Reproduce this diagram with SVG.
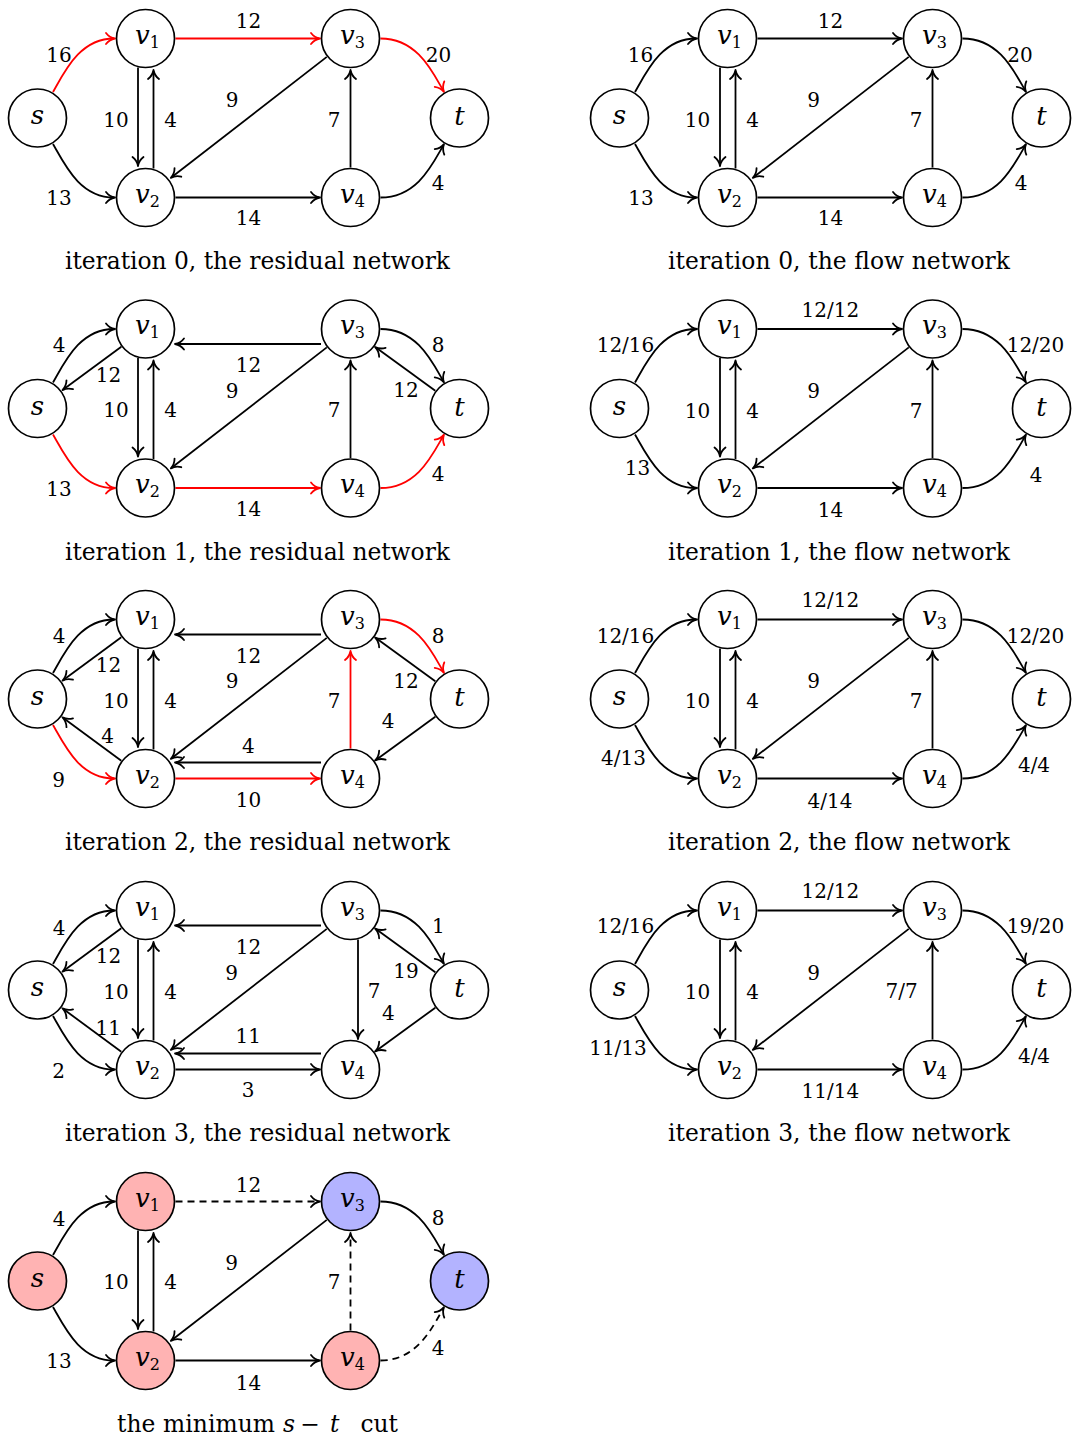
<svg xmlns="http://www.w3.org/2000/svg" width="1073" height="1437" viewBox="0 0 1073 1437">
<style>
  .nd circle { fill: #fff; stroke: #000; stroke-width: 1.7; }
  .nd.pk circle { fill: #ffb3b3; }
  .nd.bl circle { fill: #b3b3ff; }
  .nd text { font-family: "DejaVu Serif", serif; font-style: italic; font-size: 26px; text-anchor: middle; fill: #000; }
  .nd text .sub { font-style: normal; font-size: 16px; }
  .e path { fill: none; stroke: #000; stroke-width: 1.8; marker-end: url(#ak); }
  .e path.r { stroke: #f00; marker-end: url(#ar); }
  .e path.d { stroke-dasharray: 7 5; }
  .lb text { font-family: "DejaVu Serif", serif; font-size: 20px; text-anchor: middle; fill: #000; }
  .cap { font-family: "DejaVu Serif", serif; font-size: 23.4px; fill: #000; }
  .cap.mid { text-anchor: middle; }
  .cap.end { text-anchor: end; }
  .it { font-style: italic; }
</style>
<defs>
  <marker id="ak" viewBox="-10 -7 12 14" markerWidth="12" markerHeight="14" refX="0" refY="0" orient="auto" markerUnits="userSpaceOnUse" overflow="visible">
    <path d="M-8,-5.5 C-5.5,-2.2 -2,-0.5 1,0 C-2,0.5 -5.5,2.2 -8,5.5" fill="none" stroke="#000" stroke-width="1.8" stroke-linecap="round" stroke-linejoin="round"/>
  </marker>
  <marker id="ar" viewBox="-10 -7 12 14" markerWidth="12" markerHeight="14" refX="0" refY="0" orient="auto" markerUnits="userSpaceOnUse" overflow="visible">
    <path d="M-8,-5.5 C-5.5,-2.2 -2,-0.5 1,0 C-2,0.5 -5.5,2.2 -8,5.5" fill="none" stroke="#f00" stroke-width="1.8" stroke-linecap="round" stroke-linejoin="round"/>
  </marker>
</defs>

<!-- ===== iteration 0, residual network ===== -->
<g id="res0" transform="translate(0,0)">
  <g id="res0-edges" class="e">
    <path class="r" d="M53,92 C65,71 80,38.5 114,38.5"/>
    <path d="M53,144 C65,165 80,197.5 114,197.5"/>
    <path class="r" d="M175.5,38.5 H319"/>
    <path d="M138,67.5 V165"/>
    <path d="M153.5,168.5 V71"/>
    <path d="M326.8,56.9 L171.6,177.3"/>
    <path d="M175.5,197.5 H319"/>
    <path d="M350.5,167.5 V71"/>
    <path class="r" d="M380.5,38.5 C417,38.5 432,71 443.5,91"/>
    <path d="M380.5,197.5 C417,197.5 432,165 443.5,145"/>
  </g>
  <g id="res0-s" class="nd"><circle cx="37.5" cy="118" r="29"/><text x="37.5" y="124">s</text></g>
  <g id="res0-v1" class="nd"><circle cx="145.5" cy="38.5" r="29"/><text x="147.5" y="43.5">v<tspan class="sub" dy="4">1</tspan></text></g>
  <g id="res0-v2" class="nd"><circle cx="145.5" cy="197.5" r="29"/><text x="147.5" y="202.5">v<tspan class="sub" dy="4">2</tspan></text></g>
  <g id="res0-v3" class="nd"><circle cx="350.5" cy="38.5" r="29"/><text x="352.5" y="43.5">v<tspan class="sub" dy="4">3</tspan></text></g>
  <g id="res0-v4" class="nd"><circle cx="350.5" cy="197.5" r="29"/><text x="352.5" y="202.5">v<tspan class="sub" dy="4">4</tspan></text></g>
  <g id="res0-t" class="nd"><circle cx="459.5" cy="118" r="29"/><text x="459.5" y="125">t</text></g>
  <g id="res0-labels" class="lb">
    <text x="59" y="61.5">16</text>
    <text x="248.5" y="28">12</text>
    <text x="438.5" y="61.5">20</text>
    <text x="232" y="106.5">9</text>
    <text x="116" y="126.5">10</text>
    <text x="170.5" y="126.5">4</text>
    <text x="334" y="126.5">7</text>
    <text x="59" y="205">13</text>
    <text x="248.5" y="225">14</text>
    <text x="438" y="190">4</text>
  </g>
  <text class="cap mid" x="257.5" y="269" textLength="385">iteration 0, the residual network</text>
</g>

<!-- ===== iteration 0, flow network ===== -->
<g id="flow0" transform="translate(582,0)">
  <g id="flow0-edges" class="e">
    <path d="M53,92 C65,71 80,38.5 114,38.5"/>
    <path d="M53,144 C65,165 80,197.5 114,197.5"/>
    <path d="M175.5,38.5 H319"/>
    <path d="M138,67.5 V165"/>
    <path d="M153.5,168.5 V71"/>
    <path d="M326.8,56.9 L171.6,177.3"/>
    <path d="M175.5,197.5 H319"/>
    <path d="M350.5,167.5 V71"/>
    <path d="M380.5,38.5 C417,38.5 432,71 443.5,91"/>
    <path d="M380.5,197.5 C417,197.5 432,165 443.5,145"/>
  </g>
  <g id="flow0-s" class="nd"><circle cx="37.5" cy="118" r="29"/><text x="37.5" y="124">s</text></g>
  <g id="flow0-v1" class="nd"><circle cx="145.5" cy="38.5" r="29"/><text x="147.5" y="43.5">v<tspan class="sub" dy="4">1</tspan></text></g>
  <g id="flow0-v2" class="nd"><circle cx="145.5" cy="197.5" r="29"/><text x="147.5" y="202.5">v<tspan class="sub" dy="4">2</tspan></text></g>
  <g id="flow0-v3" class="nd"><circle cx="350.5" cy="38.5" r="29"/><text x="352.5" y="43.5">v<tspan class="sub" dy="4">3</tspan></text></g>
  <g id="flow0-v4" class="nd"><circle cx="350.5" cy="197.5" r="29"/><text x="352.5" y="202.5">v<tspan class="sub" dy="4">4</tspan></text></g>
  <g id="flow0-t" class="nd"><circle cx="459.5" cy="118" r="29"/><text x="459.5" y="125">t</text></g>
  <g id="flow0-labels" class="lb">
    <text x="58.5" y="61.7">16</text>
    <text x="248.5" y="28">12</text>
    <text x="438" y="61.7">20</text>
    <text x="231.5" y="107">9</text>
    <text x="115.5" y="127">10</text>
    <text x="170.5" y="127">4</text>
    <text x="334" y="127">7</text>
    <text x="59" y="205">13</text>
    <text x="248.5" y="225">14</text>
    <text x="439" y="190">4</text>
  </g>
  <text class="cap mid" x="257" y="269" textLength="342">iteration 0, the flow network</text>
</g>

<!-- ===== iteration 1, residual network ===== -->
<g id="res1" transform="translate(0,290.5)">
  <g id="res1-edges" class="e">
    <path d="M53,92 C65,71 80,38.5 114,38.5"/>
    <path d="M121.3,56.3 L63.3,99"/>
    <path class="r" d="M53,144 C65,165 80,197.5 114,197.5"/>
    <path d="M321,53.5 H176"/>
    <path d="M138,67.5 V165"/>
    <path d="M153.5,168.5 V71"/>
    <path d="M326.8,56.9 L171.6,177.3"/>
    <path class="r" d="M175.5,197.5 H319"/>
    <path d="M350.5,167.5 V71"/>
    <path d="M380.5,38.5 C417,38.5 432,71 443.5,91"/>
    <path d="M435.3,100.3 L375.9,57.1"/>
    <path class="r" d="M380.5,197.5 C417,197.5 432,165 443.5,145"/>
  </g>
  <g id="res1-s" class="nd"><circle cx="37.5" cy="118" r="29"/><text x="37.5" y="124">s</text></g>
  <g id="res1-v1" class="nd"><circle cx="145.5" cy="38.5" r="29"/><text x="147.5" y="43.5">v<tspan class="sub" dy="4">1</tspan></text></g>
  <g id="res1-v2" class="nd"><circle cx="145.5" cy="197.5" r="29"/><text x="147.5" y="202.5">v<tspan class="sub" dy="4">2</tspan></text></g>
  <g id="res1-v3" class="nd"><circle cx="350.5" cy="38.5" r="29"/><text x="352.5" y="43.5">v<tspan class="sub" dy="4">3</tspan></text></g>
  <g id="res1-v4" class="nd"><circle cx="350.5" cy="197.5" r="29"/><text x="352.5" y="202.5">v<tspan class="sub" dy="4">4</tspan></text></g>
  <g id="res1-t" class="nd"><circle cx="459.5" cy="118" r="29"/><text x="459.5" y="125">t</text></g>
  <g id="res1-labels" class="lb">
    <text x="59" y="61.7">4</text>
    <text x="108.5" y="91.5">12</text>
    <text x="116" y="126.7">10</text>
    <text x="170.5" y="126.7">4</text>
    <text x="248.5" y="81.7">12</text>
    <text x="232" y="107.5">9</text>
    <text x="334" y="126.7">7</text>
    <text x="438" y="61.7">8</text>
    <text x="406" y="106.7">12</text>
    <text x="59" y="205">13</text>
    <text x="248.5" y="225">14</text>
    <text x="438" y="190">4</text>
  </g>
  <text class="cap mid" x="257.5" y="269" textLength="385">iteration 1, the residual network</text>
</g>

<!-- ===== iteration 1, flow network ===== -->
<g id="flow1" transform="translate(582,290.5)">
  <g id="flow1-edges" class="e">
    <path d="M53,92 C65,71 80,38.5 114,38.5"/>
    <path d="M53,144 C65,165 80,197.5 114,197.5"/>
    <path d="M175.5,38.5 H319"/>
    <path d="M138,67.5 V165"/>
    <path d="M153.5,168.5 V71"/>
    <path d="M326.8,56.9 L171.6,177.3"/>
    <path d="M175.5,197.5 H319"/>
    <path d="M350.5,167.5 V71"/>
    <path d="M380.5,38.5 C417,38.5 432,71 443.5,91"/>
    <path d="M380.5,197.5 C417,197.5 432,165 443.5,145"/>
  </g>
  <g id="flow1-s" class="nd"><circle cx="37.5" cy="118" r="29"/><text x="37.5" y="124">s</text></g>
  <g id="flow1-v1" class="nd"><circle cx="145.5" cy="38.5" r="29"/><text x="147.5" y="43.5">v<tspan class="sub" dy="4">1</tspan></text></g>
  <g id="flow1-v2" class="nd"><circle cx="145.5" cy="197.5" r="29"/><text x="147.5" y="202.5">v<tspan class="sub" dy="4">2</tspan></text></g>
  <g id="flow1-v3" class="nd"><circle cx="350.5" cy="38.5" r="29"/><text x="352.5" y="43.5">v<tspan class="sub" dy="4">3</tspan></text></g>
  <g id="flow1-v4" class="nd"><circle cx="350.5" cy="197.5" r="29"/><text x="352.5" y="202.5">v<tspan class="sub" dy="4">4</tspan></text></g>
  <g id="flow1-t" class="nd"><circle cx="459.5" cy="118" r="29"/><text x="459.5" y="125">t</text></g>
  <g id="flow1-labels" class="lb">
    <text x="43.5" y="61.2">12/16</text>
    <text x="248.3" y="26.2">12/12</text>
    <text x="453.5" y="61.2">12/20</text>
    <text x="231.5" y="107.8">9</text>
    <text x="115.5" y="127">10</text>
    <text x="170.5" y="127">4</text>
    <text x="334" y="127">7</text>
    <text x="55.5" y="184.5">13</text>
    <text x="248.5" y="226">14</text>
    <text x="454" y="191">4</text>
  </g>
  <text class="cap mid" x="257" y="269" textLength="342">iteration 1, the flow network</text>
</g>

<!-- ===== iteration 2, residual network ===== -->
<g id="res2" transform="translate(0,581)">
  <g id="res2-edges" class="e">
    <path d="M53,92 C65,71 80,38.5 114,38.5"/>
    <path d="M121.3,56.3 L63.3,99"/>
    <path d="M121.3,179.7 L63.3,137"/>
    <path class="r" d="M53,144 C65,165 80,197.5 114,197.5"/>
    <path d="M321,53.5 H176"/>
    <path d="M138,67.5 V165"/>
    <path d="M153.5,168.5 V71"/>
    <path d="M326.8,56.9 L171.6,177.3"/>
    <path d="M321,181.5 H176"/>
    <path class="r" d="M175.5,197.5 H319"/>
    <path class="r" d="M350.5,167.5 V71"/>
    <path class="r" d="M380.5,38.5 C417,38.5 432,71 443.5,91"/>
    <path d="M435.3,100.3 L375.9,57.1"/>
    <path d="M435.3,135.7 L375.9,178.9"/>
  </g>
  <g id="res2-s" class="nd"><circle cx="37.5" cy="118" r="29"/><text x="37.5" y="124">s</text></g>
  <g id="res2-v1" class="nd"><circle cx="145.5" cy="38.5" r="29"/><text x="147.5" y="43.5">v<tspan class="sub" dy="4">1</tspan></text></g>
  <g id="res2-v2" class="nd"><circle cx="145.5" cy="197.5" r="29"/><text x="147.5" y="202.5">v<tspan class="sub" dy="4">2</tspan></text></g>
  <g id="res2-v3" class="nd"><circle cx="350.5" cy="38.5" r="29"/><text x="352.5" y="43.5">v<tspan class="sub" dy="4">3</tspan></text></g>
  <g id="res2-v4" class="nd"><circle cx="350.5" cy="197.5" r="29"/><text x="352.5" y="202.5">v<tspan class="sub" dy="4">4</tspan></text></g>
  <g id="res2-t" class="nd"><circle cx="459.5" cy="118" r="29"/><text x="459.5" y="125">t</text></g>
  <g id="res2-labels" class="lb">
    <text x="59" y="62">4</text>
    <text x="108.5" y="90.7">12</text>
    <text x="116" y="127">10</text>
    <text x="170.5" y="127">4</text>
    <text x="248.5" y="81.7">12</text>
    <text x="232" y="107">9</text>
    <text x="334" y="127">7</text>
    <text x="438" y="62">8</text>
    <text x="406" y="107">12</text>
    <text x="388" y="147.3">4</text>
    <text x="107.5" y="162.3">4</text>
    <text x="248.3" y="172.3">4</text>
    <text x="58.7" y="205.7">9</text>
    <text x="248.5" y="225.7">10</text>
  </g>
  <text class="cap mid" x="257.5" y="269" textLength="385">iteration 2, the residual network</text>
</g>

<!-- ===== iteration 2, flow network ===== -->
<g id="flow2" transform="translate(582,581)">
  <g id="flow2-edges" class="e">
    <path d="M53,92 C65,71 80,38.5 114,38.5"/>
    <path d="M53,144 C65,165 80,197.5 114,197.5"/>
    <path d="M175.5,38.5 H319"/>
    <path d="M138,67.5 V165"/>
    <path d="M153.5,168.5 V71"/>
    <path d="M326.8,56.9 L171.6,177.3"/>
    <path d="M175.5,197.5 H319"/>
    <path d="M350.5,167.5 V71"/>
    <path d="M380.5,38.5 C417,38.5 432,71 443.5,91"/>
    <path d="M380.5,197.5 C417,197.5 432,165 443.5,145"/>
  </g>
  <g id="flow2-s" class="nd"><circle cx="37.5" cy="118" r="29"/><text x="37.5" y="124">s</text></g>
  <g id="flow2-v1" class="nd"><circle cx="145.5" cy="38.5" r="29"/><text x="147.5" y="43.5">v<tspan class="sub" dy="4">1</tspan></text></g>
  <g id="flow2-v2" class="nd"><circle cx="145.5" cy="197.5" r="29"/><text x="147.5" y="202.5">v<tspan class="sub" dy="4">2</tspan></text></g>
  <g id="flow2-v3" class="nd"><circle cx="350.5" cy="38.5" r="29"/><text x="352.5" y="43.5">v<tspan class="sub" dy="4">3</tspan></text></g>
  <g id="flow2-v4" class="nd"><circle cx="350.5" cy="197.5" r="29"/><text x="352.5" y="202.5">v<tspan class="sub" dy="4">4</tspan></text></g>
  <g id="flow2-t" class="nd"><circle cx="459.5" cy="118" r="29"/><text x="459.5" y="125">t</text></g>
  <g id="flow2-labels" class="lb">
    <text x="43.5" y="61.7">12/16</text>
    <text x="248.3" y="25.7">12/12</text>
    <text x="453.5" y="61.7">12/20</text>
    <text x="231.5" y="107">9</text>
    <text x="115.5" y="127">10</text>
    <text x="170.5" y="127">4</text>
    <text x="334" y="127">7</text>
    <text x="41.5" y="184">4/13</text>
    <text x="248" y="227">4/14</text>
    <text x="452" y="190.7">4/4</text>
  </g>
  <text class="cap mid" x="257" y="269" textLength="342">iteration 2, the flow network</text>
</g>

<!-- ===== iteration 3, residual network ===== -->
<g id="res3" transform="translate(0,872)">
  <g id="res3-edges" class="e">
    <path d="M53,92 C65,71 80,38.5 114,38.5"/>
    <path d="M121.3,56.3 L63.3,99"/>
    <path d="M121.3,179.7 L63.3,137"/>
    <path d="M53,144 C65,165 80,197.5 114,197.5"/>
    <path d="M321,53.5 H176"/>
    <path d="M138,67.5 V165"/>
    <path d="M153.5,168.5 V71"/>
    <path d="M326.8,56.9 L171.6,177.3"/>
    <path d="M321,181.5 H176"/>
    <path d="M175.5,197.5 H319"/>
    <path d="M358,67.5 V166"/>
    <path d="M380.5,38.5 C417,38.5 432,71 443.5,91"/>
    <path d="M435.3,100.3 L375.9,57.1"/>
    <path d="M435.3,135.7 L375.9,178.9"/>
  </g>
  <g id="res3-s" class="nd"><circle cx="37.5" cy="118" r="29"/><text x="37.5" y="124">s</text></g>
  <g id="res3-v1" class="nd"><circle cx="145.5" cy="38.5" r="29"/><text x="147.5" y="43.5">v<tspan class="sub" dy="4">1</tspan></text></g>
  <g id="res3-v2" class="nd"><circle cx="145.5" cy="197.5" r="29"/><text x="147.5" y="202.5">v<tspan class="sub" dy="4">2</tspan></text></g>
  <g id="res3-v3" class="nd"><circle cx="350.5" cy="38.5" r="29"/><text x="352.5" y="43.5">v<tspan class="sub" dy="4">3</tspan></text></g>
  <g id="res3-v4" class="nd"><circle cx="350.5" cy="197.5" r="29"/><text x="352.5" y="202.5">v<tspan class="sub" dy="4">4</tspan></text></g>
  <g id="res3-t" class="nd"><circle cx="459.5" cy="118" r="29"/><text x="459.5" y="125">t</text></g>
  <g id="res3-labels" class="lb">
    <text x="59" y="63">4</text>
    <text x="108.5" y="91.3">12</text>
    <text x="116" y="127.3">10</text>
    <text x="170.5" y="127.3">4</text>
    <text x="248.5" y="82">12</text>
    <text x="231.5" y="108">9</text>
    <text x="108.3" y="163">11</text>
    <text x="58.7" y="206.3">2</text>
    <text x="248.3" y="171.3">11</text>
    <text x="248" y="224.7">3</text>
    <text x="374.2" y="126.3">7</text>
    <text x="388.3" y="148">4</text>
    <text x="438.3" y="61.3">1</text>
    <text x="406" y="106.3">19</text>
  </g>
  <text class="cap mid" x="257.5" y="269" textLength="385">iteration 3, the residual network</text>
</g>

<!-- ===== iteration 3, flow network ===== -->
<g id="flow3" transform="translate(582,872)">
  <g id="flow3-edges" class="e">
    <path d="M53,92 C65,71 80,38.5 114,38.5"/>
    <path d="M53,144 C65,165 80,197.5 114,197.5"/>
    <path d="M175.5,38.5 H319"/>
    <path d="M138,67.5 V165"/>
    <path d="M153.5,168.5 V71"/>
    <path d="M326.8,56.9 L171.6,177.3"/>
    <path d="M175.5,197.5 H319"/>
    <path d="M350.5,167.5 V71"/>
    <path d="M380.5,38.5 C417,38.5 432,71 443.5,91"/>
    <path d="M380.5,197.5 C417,197.5 432,165 443.5,145"/>
  </g>
  <g id="flow3-s" class="nd"><circle cx="37.5" cy="118" r="29"/><text x="37.5" y="124">s</text></g>
  <g id="flow3-v1" class="nd"><circle cx="145.5" cy="38.5" r="29"/><text x="147.5" y="43.5">v<tspan class="sub" dy="4">1</tspan></text></g>
  <g id="flow3-v2" class="nd"><circle cx="145.5" cy="197.5" r="29"/><text x="147.5" y="202.5">v<tspan class="sub" dy="4">2</tspan></text></g>
  <g id="flow3-v3" class="nd"><circle cx="350.5" cy="38.5" r="29"/><text x="352.5" y="43.5">v<tspan class="sub" dy="4">3</tspan></text></g>
  <g id="flow3-v4" class="nd"><circle cx="350.5" cy="197.5" r="29"/><text x="352.5" y="202.5">v<tspan class="sub" dy="4">4</tspan></text></g>
  <g id="flow3-t" class="nd"><circle cx="459.5" cy="118" r="29"/><text x="459.5" y="125">t</text></g>
  <g id="flow3-labels" class="lb">
    <text x="43.5" y="61.3">12/16</text>
    <text x="248.3" y="26.3">12/12</text>
    <text x="453.5" y="61.3">19/20</text>
    <text x="231.5" y="108">9</text>
    <text x="115.5" y="127">10</text>
    <text x="170.5" y="127">4</text>
    <text x="319.7" y="126.3">7/7</text>
    <text x="36" y="183">11/13</text>
    <text x="248.3" y="226.3">11/14</text>
    <text x="452" y="190.7">4/4</text>
  </g>
  <text class="cap mid" x="257" y="269" textLength="342">iteration 3, the flow network</text>
</g>

<!-- ===== minimum s-t cut ===== -->
<g id="cut" transform="translate(0,1163)">
  <g id="cut-edges" class="e">
    <path d="M53,92 C65,71 80,38.5 114,38.5"/>
    <path d="M53,144 C65,165 80,197.5 114,197.5"/>
    <path class="d" d="M175.5,38.5 H319"/>
    <path d="M138,67.5 V165"/>
    <path d="M153.5,168.5 V71"/>
    <path d="M326.8,56.9 L171.6,177.3"/>
    <path d="M175.5,197.5 H319"/>
    <path class="d" d="M350.5,167.5 V71"/>
    <path d="M380.5,38.5 C417,38.5 432,71 443.5,91"/>
    <path class="d" d="M380.5,197.5 C417,197.5 432,165 443.5,145"/>
  </g>
  <g id="cut-s" class="nd pk"><circle cx="37.5" cy="118" r="29"/><text x="37.5" y="124">s</text></g>
  <g id="cut-v1" class="nd pk"><circle cx="145.5" cy="38.5" r="29"/><text x="147.5" y="43.5">v<tspan class="sub" dy="4">1</tspan></text></g>
  <g id="cut-v2" class="nd pk"><circle cx="145.5" cy="197.5" r="29"/><text x="147.5" y="202.5">v<tspan class="sub" dy="4">2</tspan></text></g>
  <g id="cut-v3" class="nd bl"><circle cx="350.5" cy="38.5" r="29"/><text x="352.5" y="43.5">v<tspan class="sub" dy="4">3</tspan></text></g>
  <g id="cut-v4" class="nd pk"><circle cx="350.5" cy="197.5" r="29"/><text x="352.5" y="202.5">v<tspan class="sub" dy="4">4</tspan></text></g>
  <g id="cut-t" class="nd bl"><circle cx="459.5" cy="118" r="29"/><text x="459.5" y="125">t</text></g>
  <g id="cut-labels" class="lb">
    <text x="59" y="62.7">4</text>
    <text x="248.5" y="28.7">12</text>
    <text x="231.7" y="107">9</text>
    <text x="116" y="126.3">10</text>
    <text x="170.5" y="126.3">4</text>
    <text x="334" y="126.3">7</text>
    <text x="438" y="62">8</text>
    <text x="59" y="205.3">13</text>
    <text x="248.5" y="227">14</text>
    <text x="438" y="192">4</text>
  </g>
  <text class="cap" x="117" y="269" textLength="158">the minimum</text>
  <text class="cap it" x="283" y="269">s</text>
  <text class="cap mid" x="310" y="269">−</text>
  <text class="cap it" x="330" y="269">t</text>
  <text class="cap end" x="398" y="269">cut</text>
</g>
</svg>
